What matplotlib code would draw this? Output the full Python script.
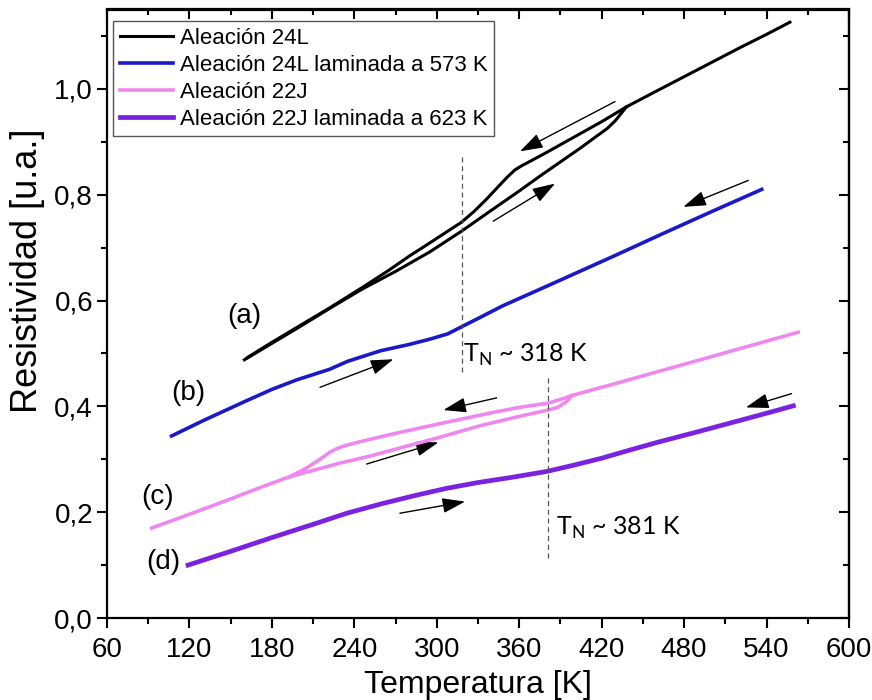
import matplotlib
matplotlib.use("Agg")
import matplotlib.pyplot as plt
from matplotlib.patches import FancyArrowPatch

# ---------------- data ----------------
# (a) Aleación 24L  - heating (lower) branch then common part
a_heat_T = [160, 180, 200, 222, 246, 270, 295, 318, 340, 360, 375, 390, 405, 416, 424, 430, 434, 438,
            460, 480, 500, 520, 540, 557]
a_heat_R = [0.488, 0.519, 0.550, 0.585, 0.622, 0.655, 0.692, 0.731, 0.771, 0.807, 0.835, 0.862, 0.889,
            0.910, 0.925, 0.940, 0.953, 0.966,
            0.996, 1.023, 1.050, 1.077, 1.103, 1.126]
# (a) cooling (upper) branch
a_cool_T = [438, 420, 400, 380, 370, 362, 357, 352, 345, 336, 327, 318, 305, 295, 280, 265, 246, 222,
            200, 180, 162]
a_cool_R = [0.966, 0.938, 0.909, 0.880, 0.866, 0.855, 0.847, 0.835, 0.816, 0.791, 0.768, 0.748, 0.726,
            0.709, 0.684, 0.657, 0.625, 0.586, 0.552, 0.521, 0.492]

# (b) Aleación 24L laminada a 573 K
b_T = [107, 130, 161, 180, 198, 222, 235, 259, 280, 295, 308, 317, 330, 348, 380, 428, 465, 500, 536.5]
b_R = [0.344, 0.373, 0.410, 0.432, 0.450, 0.470, 0.485, 0.505, 0.517, 0.527, 0.537, 0.549, 0.566,
       0.590, 0.627, 0.683, 0.727, 0.768, 0.810]

# (c) Aleación 22J - heating branch then common part
c_heat_T = [92.5, 120, 150, 175, 193, 210, 230, 250, 280, 300, 331, 360, 381, 388, 394, 399,
            430, 460, 500, 530, 563]
c_heat_R = [0.170, 0.196, 0.225, 0.250, 0.267, 0.279, 0.293, 0.305, 0.326, 0.340, 0.363, 0.381,
            0.393, 0.398, 0.408, 0.421, 0.443, 0.465, 0.494, 0.516, 0.540]
# (c) cooling branch
c_cool_T = [399, 390, 381, 360, 340, 320, 300, 270, 244, 235, 228, 222, 215, 205, 193]
c_cool_R = [0.421, 0.413, 0.406, 0.398, 0.388, 0.377, 0.366, 0.349, 0.333, 0.327, 0.321, 0.313,
            0.300, 0.283, 0.267]

# (d) Aleación 22J laminada a 623 K
d_T = [119, 150, 180, 210, 234.5, 260, 285, 307, 330, 355, 380, 400, 420, 440, 462, 490, 520, 540, 559.5]
d_R = [0.100, 0.126, 0.152, 0.177, 0.198, 0.216, 0.232, 0.245, 0.256, 0.266, 0.277, 0.289, 0.302,
       0.317, 0.333, 0.352, 0.373, 0.387, 0.401]

series_labels = ["Aleación 24L", "Aleación 24L laminada a 573 K",
                 "Aleación 22J", "Aleación 22J laminada a 623 K"]
series_colors = ["#000000", "#1919C8", "#EE88EE", "#7A22E0"]
series_widths = [2.2, 2.6, 2.6, 3.4]

curve_letters = ["(a)", "(b)", "(c)", "(d)"]
letter_T = [160, 119, 97, 101]
letter_R = [0.571, 0.426, 0.229, 0.106]

# Néel temperature markers: T, ρ-range of dashed line, text position
tn_values = [318, 381]
tn_line_lo = [0.465, 0.113]
tn_line_hi = [0.876, 0.460]
tn_text_T = [319, 387]
tn_text_R = [0.484, 0.157]

# direction arrows (start T, start ρ, end T, end ρ)
arrow_T0 = [429.7, 341.1, 215.0, 526.7, 343.6, 249.0, 273.2, 558.2]
arrow_R0 = [0.976, 0.750, 0.436, 0.827, 0.416, 0.291, 0.198, 0.424]
arrow_T1 = [360.6, 386.1, 268.4, 479.4, 304.8, 301.2, 320.6, 525.0]
arrow_R1 = [0.882, 0.821, 0.489, 0.777, 0.393, 0.332, 0.220, 0.398]

xticks = [60, 120, 180, 240, 300, 360, 420, 480, 540, 600]
yticks = [0.0, 0.2, 0.4, 0.6, 0.8, 1.0]
ytick_labels = ["0,0", "0,2", "0,4", "0,6", "0,8", "1,0"]

# ---------------- plotting ----------------
plt.rcParams['font.family'] = ['Liberation Sans', 'DejaVu Sans']
narrow = ['Liberation Sans Narrow', 'Liberation Sans', 'DejaVu Sans']

fig = plt.figure(figsize=(8.72, 7.0), dpi=100)
ax = fig.add_axes([107/872, 82/700, 742/872, 608.5/700])

ax.plot(a_heat_T, a_heat_R, color=series_colors[0], lw=series_widths[0], label=series_labels[0])
ax.plot(a_cool_T, a_cool_R, color=series_colors[0], lw=series_widths[0])
ax.plot(b_T, b_R, color=series_colors[1], lw=series_widths[1], label=series_labels[1])
ax.plot(c_heat_T, c_heat_R, color=series_colors[2], lw=series_widths[2], label=series_labels[2])
ax.plot(c_cool_T, c_cool_R, color=series_colors[2], lw=series_widths[2])
ax.plot(d_T, d_R, color=series_colors[3], lw=series_widths[3], label=series_labels[3])

for t, lo, hi in zip(tn_values, tn_line_lo, tn_line_hi):
    ax.plot([t, t], [lo, hi], color="#555555", lw=0.9, ls=(0, (4, 3)))

for t, tx, ty in zip(tn_values, tn_text_T, tn_text_R):
    ax.text(tx, ty, r"T$_\mathregular{N}$ ~ %d K" % t, fontsize=18, family=['Lato', 'DejaVu Sans'],
            ha='left', va='baseline')

for lab, tx, ty in zip(curve_letters, letter_T, letter_R):
    ax.text(tx, ty, lab, fontsize=20, ha='center', va='center')

for x0, y0, x1, y1 in zip(arrow_T0, arrow_R0, arrow_T1, arrow_R1):
    ax.add_patch(FancyArrowPatch((x0, y0), (x1, y1),
                                 arrowstyle='-|>,head_length=1.0,head_width=0.33',
                                 mutation_scale=14, color='black', lw=1.0,
                                 shrinkA=0, shrinkB=0))

ax.set_xlim(60, 600)
ax.set_ylim(0, 1.15)
ax.set_xticks(xticks)
ax.set_xticks(range(90, 600, 60), minor=True)
ax.set_yticks(yticks)
ax.set_yticklabels(ytick_labels)
ax.set_yticks([0.1, 0.3, 0.5, 0.7, 0.9, 1.1], minor=True)
for lbl in ax.get_xticklabels() + ax.get_yticklabels():
    lbl.set_family(narrow)
    lbl.set_fontsize(20)

ax.tick_params(axis='both', which='major', direction='out', length=7, width=1.5)
ax.tick_params(axis='both', which='minor', direction='out', length=4, width=1.5)
ax.tick_params(axis='x', which='major', pad=7)
ax.tick_params(axis='y', which='major', pad=3)
for s in ax.spines.values():
    s.set_linewidth(1.6)

# mirrored inward ticks on top and right
sx = ax.secondary_xaxis('top')
sx.set_xticks(xticks)
sx.set_xticks(range(90, 600, 60), minor=True)
sx.tick_params(which='major', direction='in', length=7, width=1.5, labeltop=False)
sx.tick_params(which='minor', direction='in', length=4, width=1.5)
sx.spines['top'].set_linewidth(1.6)
sy = ax.secondary_yaxis('right')
sy.set_yticks(yticks)
sy.set_yticks([0.1, 0.3, 0.5, 0.7, 0.9, 1.1], minor=True)
sy.tick_params(which='major', direction='in', length=7, width=1.5, labelright=False)
sy.tick_params(which='minor', direction='in', length=4, width=1.5)
sy.spines['right'].set_linewidth(1.6)

ax.set_xlabel("Temperatura [K]", fontsize=23)
ax.set_ylabel("Resistividad [u.a.]", fontsize=26)
ax.xaxis.set_label_coords(0.5, -0.086)
ax.yaxis.set_label_coords(-0.083, 0.57)

leg = ax.legend(loc='upper left', bbox_to_anchor=(0.008, 0.981), fontsize=16,
                frameon=True, fancybox=False, edgecolor='#555555', framealpha=1,
                handlelength=2.4, handletextpad=0.3, labelspacing=0.27,
                borderpad=0.3, borderaxespad=0)
leg.get_frame().set_linewidth(1.0)

fig.savefig("out.png", dpi=100)
